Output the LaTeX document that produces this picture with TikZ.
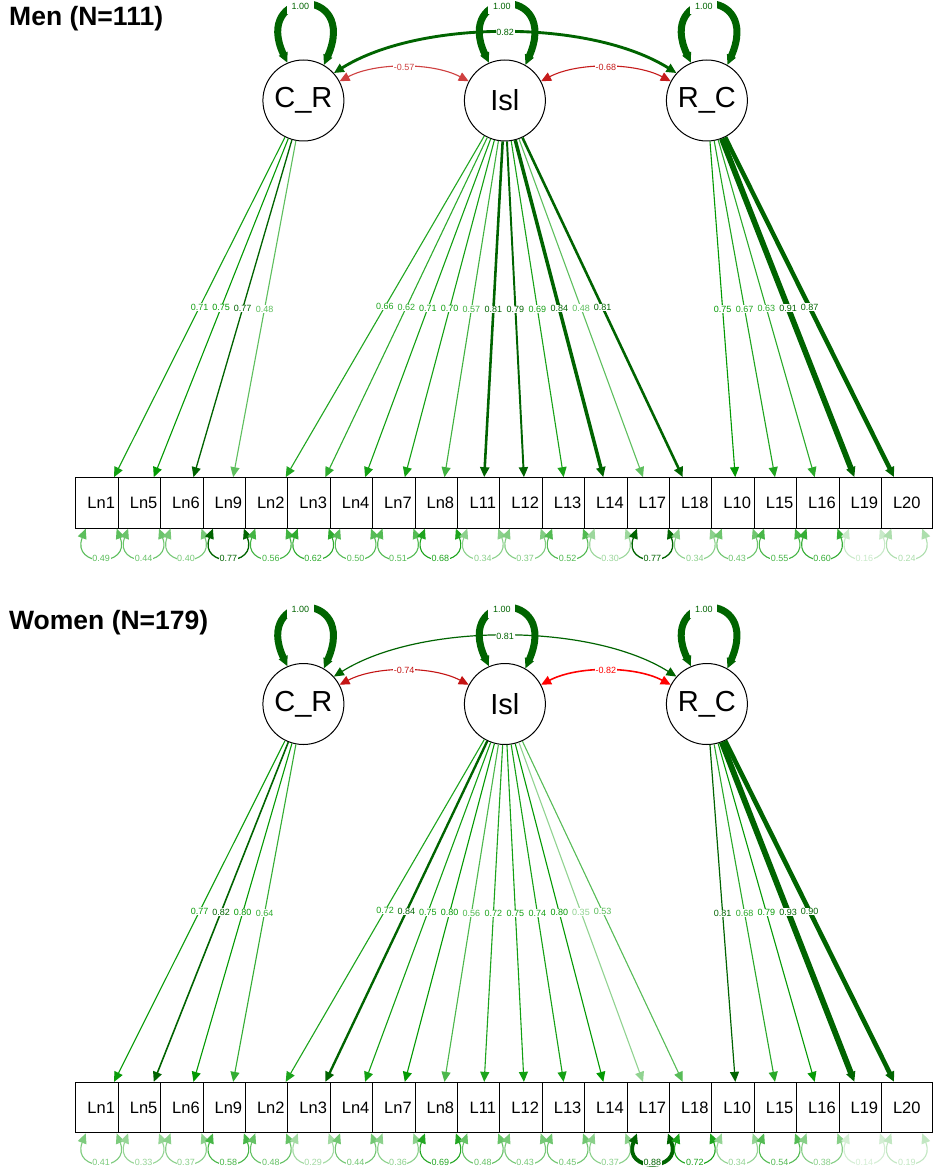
\documentclass[tikz,border=0pt]{standalone}
\usepackage{fontspec}
\setmainfont{Liberation Sans}
\usetikzlibrary{arrows.meta}
\definecolor{grn}{RGB}{0,153,0}
\definecolor{dkg}{RGB}{0,100,0}
\definecolor{rd}{RGB}{191,0,0}
\definecolor{brd}{RGB}{255,0,0}
\begin{document}
\begin{tikzpicture}[x=1pt,y=-1pt,
  >={Triangle[length=10pt,width=9pt]},
  lat/.style={circle,draw,line width=1pt,fill=white,minimum size=81pt,inner sep=0pt,font=\fontsize{29}{32}\selectfont},
  obs/.style={rectangle,draw,line width=1pt,fill=white,minimum width=50.5pt,minimum height=50.5pt,inner sep=0pt,font=\fontsize{16.5}{18}\selectfont},
  lab/.style={fill=white,inner sep=0.6pt,font=\fontsize{9}{10}\selectfont},
  looplab/.style={fill=white,inner sep=0pt,minimum width=27pt,minimum height=16pt,font=\fontsize{9}{10}\selectfont},
  ttl/.style={anchor=west,inner sep=0pt,font=\bfseries\fontsize{26.5}{30}\selectfont},
  wt/.code={\pgfmathsetmacro\myv{#1}\pgfmathtruncatemacro\myab{(\myv>\cutv)}%
    \ifnum\myab=1
      \pgfmathsetmacro\myw{1+7.5*(\myv-\cutv)/(1-\cutv)}%
      \colorlet{ecol}{dkg}\pgfkeysalso{color=ecol,line width=\myw pt}%
    \else
      \pgfmathtruncatemacro\myp{round(100*\myv/\cutv)}%
      \colorlet{ecol}{grn!\myp!white}\pgfkeysalso{color=ecol,line width=1.1pt}%
    \fi},
  nwt/.code={\pgfmathsetmacro\myv{#1}\pgfmathtruncatemacro\myab{(\myv>\cutv)}%
    \ifnum\myab=1
      \pgfmathsetmacro\myw{1+7.5*(\myv-\cutv)/(1-\cutv)}%
      \colorlet{ecol}{brd}\pgfkeysalso{color=ecol,line width=\myw pt}%
    \else
      \pgfmathtruncatemacro\myp{round(100*\myv/\cutv)}%
      \colorlet{ecol}{rd!\myp!white}\pgfkeysalso{color=ecol,line width=1.1pt}%
    \fi},
]
\fill[white] (0,0) rectangle (943,1169);
\useasboundingbox (0,0) rectangle (943,1169);

%================ MEN =================
\def\cutv{0.76}
\node[ttl] (tm) at (9,19) {Men (N=111)};
\node[lat] (mCR) at (303.4,100.5) {C\_R};
\node[lat] (mIsl) at (504.9,100.5) {Isl};
\node[lat] (mRC) at (706.9,100.5) {R\_C};
\foreach \nm [count=\i from 0] in {Ln1,Ln5,Ln6,Ln9,Ln2,Ln3,Ln4,Ln7,Ln8,L11,L12,L13,L14,L17,L18,L10,L15,L16,L19,L20}
  \node[obs] (m\nm) at ({101.2+42.4*\i},502.9) {\nm};

% variances of latents
\foreach \nd in {mCR,mIsl,mRC}
  \draw[wt=1.00,line width=7pt,line cap=round,<->] (\nd.113) .. controls +(-35,-75) and +(35,-80) .. node[looplab,pos=0.45]{1.00} (\nd.60);

% loadings
\foreach \tg/\v in {Ln1/0.71,Ln5/0.75,Ln6/0.77,Ln9/0.48}
  \draw[wt=\v,->] (mCR) -- node[lab]{\v} (m\tg);
\foreach \tg/\v in {Ln2/0.66,Ln3/0.62,Ln4/0.71,Ln7/0.70,Ln8/0.57,L11/0.81,L12/0.79,L13/0.69,L14/0.84,L17/0.48,L18/0.81}
  \draw[wt=\v,->] (mIsl) -- node[lab]{\v} (m\tg);
\foreach \tg/\v in {L10/0.75,L15/0.67,L16/0.63,L19/0.91,L20/0.87}
  \draw[wt=\v,->] (mRC) -- node[lab]{\v} (m\tg);

% residuals
\foreach \tg/\v in {Ln1/0.49,Ln5/0.44,Ln6/0.40,Ln9/0.77,Ln2/0.56,Ln3/0.62,Ln4/0.50,Ln7/0.51,Ln8/0.68,L11/0.34,L12/0.37,L13/0.52,L14/0.30,L17/0.77,L18/0.34,L10/0.43,L15/0.55,L16/0.60,L19/0.16,L20/0.24}
  \draw[wt=\v,<->] (m\tg.-121) .. controls +(-15,39) and +(15,39) .. node[lab]{\v} (m\tg.-59);

% covariances
\draw[nwt=0.57,<->] (mCR.28) .. controls +(36,-19) and +(-36,-19) .. node[lab]{-0.57} (mIsl.152);
\draw[nwt=0.68,<->] (mIsl.28) .. controls +(36,-19) and +(-36,-19) .. node[lab]{-0.68} (mRC.152);
\draw[wt=0.82,<->] (mCR.42) .. controls +(86,-54) and +(-86,-54) .. node[lab]{0.82} (mRC.138);

%================ WOMEN =================
\def\cutv{0.805}
\node[ttl] (tw) at (9,623) {Women (N=179)};
\node[lat] (wCR) at (303.4,704) {C\_R};
\node[lat] (wIsl) at (504.9,704) {Isl};
\node[lat] (wRC) at (706.9,704) {R\_C};
\foreach \nm [count=\i from 0] in {Ln1,Ln5,Ln6,Ln9,Ln2,Ln3,Ln4,Ln7,Ln8,L11,L12,L13,L14,L17,L18,L10,L15,L16,L19,L20}
  \node[obs] (w\nm) at ({101.2+42.4*\i},1107.6) {\nm};

\foreach \nd in {wCR,wIsl,wRC}
  \draw[wt=1.00,line width=7pt,line cap=round,<->] (\nd.113) .. controls +(-35,-75) and +(35,-80) .. node[looplab,pos=0.45]{1.00} (\nd.60);

\foreach \tg/\v in {Ln1/0.77,Ln5/0.82,Ln6/0.80,Ln9/0.64}
  \draw[wt=\v,->] (wCR) -- node[lab]{\v} (w\tg);
\foreach \tg/\v in {Ln2/0.72,Ln3/0.84,Ln4/0.75,Ln7/0.80,Ln8/0.56,L11/0.72,L12/0.75,L13/0.74,L14/0.80,L17/0.35,L18/0.53}
  \draw[wt=\v,->] (wIsl) -- node[lab]{\v} (w\tg);
\foreach \tg/\v in {L10/0.81,L15/0.68,L16/0.79,L19/0.93,L20/0.90}
  \draw[wt=\v,->] (wRC) -- node[lab]{\v} (w\tg);

\foreach \tg/\v in {Ln1/0.41,Ln5/0.33,Ln6/0.37,Ln9/0.58,Ln2/0.48,Ln3/0.29,Ln4/0.44,Ln7/0.36,Ln8/0.69,L11/0.48,L12/0.43,L13/0.45,L14/0.37,L17/0.88,L18/0.72,L10/0.34,L15/0.54,L16/0.38,L19/0.14,L20/0.19}
  \draw[wt=\v,<->] (w\tg.-121) .. controls +(-15,39) and +(15,39) .. node[lab]{\v} (w\tg.-59);

\draw[nwt=0.74,<->] (wCR.28) .. controls +(36,-19) and +(-36,-19) .. node[lab]{-0.74} (wIsl.152);
\draw[nwt=0.82,<->] (wIsl.28) .. controls +(36,-19) and +(-36,-19) .. node[lab]{-0.82} (wRC.152);
\draw[wt=0.81,<->] (wCR.42) .. controls +(86,-54) and +(-86,-54) .. node[lab]{0.81} (wRC.138);
\end{tikzpicture}
\end{document}
